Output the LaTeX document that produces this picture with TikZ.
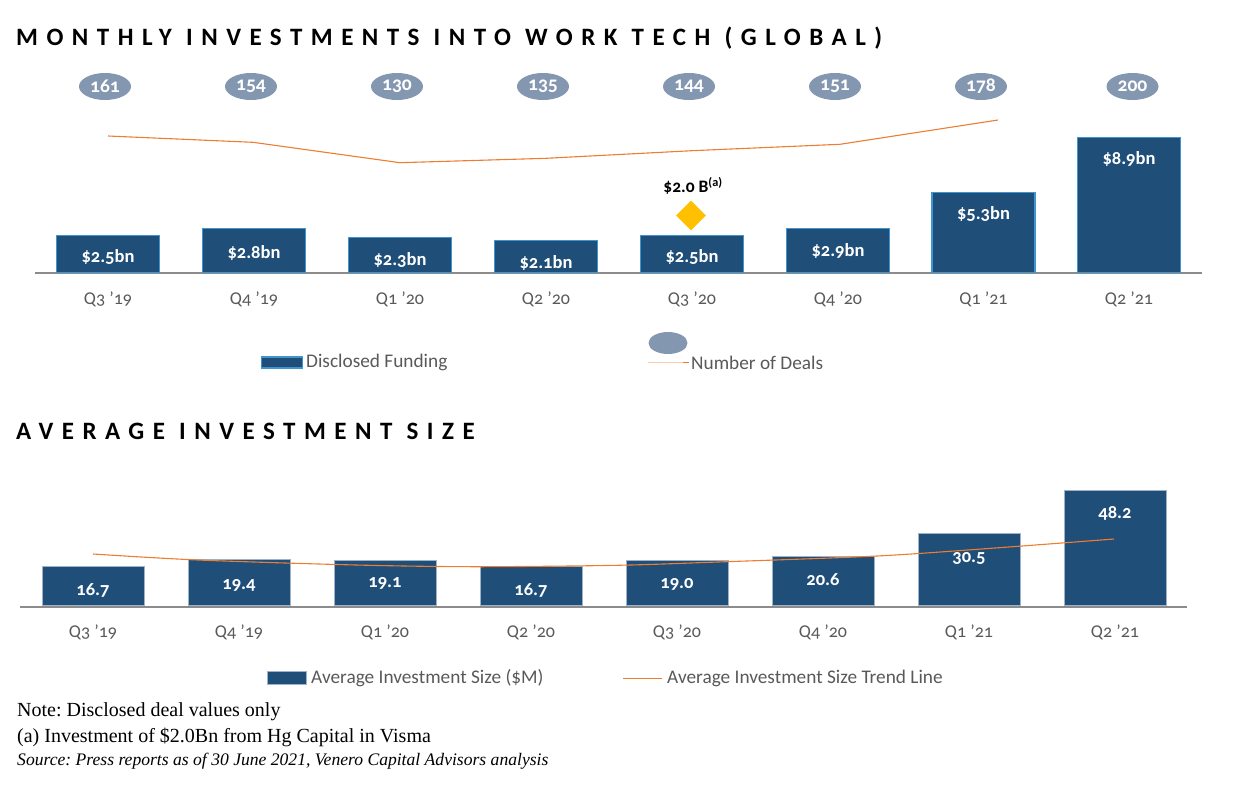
\documentclass[tikz,border=0pt]{standalone}
\usepackage{fontspec}
\setmainfont{Carlito}[Numbers=OldStyle]
\newfontfamily\titlefont{Carlito}[LetterSpace=34]
\newfontfamily\notefont{Liberation Serif}
\usetikzlibrary{shapes.geometric}
\definecolor{barblue}{HTML}{1F4E79}
\definecolor{baredge}{HTML}{3E95D0}
\definecolor{botedge}{HTML}{9FB3C8}
\definecolor{ellgray}{HTML}{8497B0}
\definecolor{lineorange}{HTML}{ED7D31}
\definecolor{axisgray}{HTML}{8C8C8C}
\definecolor{labgray}{HTML}{595959}
\definecolor{diamondyellow}{HTML}{FFC000}
\definecolor{peach}{HTML}{F8CBAD}
\tikzset{
  topbar/.style={draw=baredge, line width=1.5pt, fill=barblue, minimum width=103pt, anchor=south, inner sep=0pt},
  botbar/.style={draw=botedge, line width=0.8pt, fill=barblue, minimum width=102pt, anchor=south, inner sep=0pt},
  barlab/.style={text=white, font=\bfseries\fontsize{18.5}{20}\selectfont, inner sep=0pt},
  qlab/.style={text=labgray, font=\fontsize{18}{20}\selectfont, inner sep=0pt},
  deal/.style={ellipse, fill=ellgray, minimum width=52pt, minimum height=27pt, inner sep=0pt, text=white, font=\bfseries\fontsize{19.5}{21}\selectfont},
  charttitle/.style={anchor=west, inner sep=0pt, font=\titlefont\bfseries\fontsize{25}{28}\selectfont},
  axisline/.style={draw=axisgray, line width=2pt},
  trend/.style={draw=lineorange, line width=1.1pt},
  legtext/.style={anchor=west, inner sep=0pt, text=labgray, font=\fontsize{19.3}{22}\selectfont},
  notetext/.style={anchor=west, inner sep=0pt, font=\notefont\frenchspacing\fontsize{20}{22}\selectfont},
}
\begin{document}
\begin{tikzpicture}[x=1pt,y=-1pt]
\useasboundingbox (0,0) rectangle (1237,787);
% titles
\node[charttitle] (t1) at (16,38) {MONTHLY INVESTMENTS INTO WORK TECH (GLOBAL)};
\node[charttitle] (t2) at (16,431) {AVERAGE INVESTMENT SIZE};
% top chart
\draw[axisline] (35,273) coordinate (ta0) -- (1202,273) coordinate (ta1);
\foreach \i/\x/\h/\ly/\lab in {1/108/37/257/\$2.5bn, 2/254/44/253/\$2.8bn, 3/400/35/260/\$2.3bn, 4/546/32/262.5/\$2.1bn, 5/692/37/257/\$2.5bn, 6/838/44/250.5/\$2.9bn, 7/983.5/80/214/\$5.3bn, 8/1129/135/159/\$8.9bn}{
  \node[topbar, minimum height=\h pt] (tb\i) at (\x,273) {};
  \node[barlab] (tl\i) at (\x,\ly) {\lab};
}
\foreach \i/\x/\lab in {1/108/Q3 \char39 19, 2/254/Q4 \char39 19, 3/400/Q1 \char39 20, 4/546/Q2 \char39 20, 5/692/Q3 \char39 20, 6/838/Q4 \char39 20, 7/983.5/Q1 \char39 21, 8/1129/Q2 \char39 21}{
  \node[qlab] (tq\i) at (\x,299) {\lab};
}
\foreach \i/\x/\lab in {1/105/161, 2/251/154, 3/397/130, 4/543/135, 5/689/144, 6/835/151, 7/981/178, 8/1132.5/200}{
  \node[deal] (e\i) at (\x,86.5) {\lab};
}
\coordinate (d1) at (108,136);
\coordinate (d2) at (253,142.3);
\coordinate (d3) at (400,162.7);
\coordinate (d4) at (546,158.3);
\coordinate (d5) at (692,150.7);
\coordinate (d6) at (840,144.3);
\coordinate (d7) at (998,120);
\draw[trend] (d1) -- (d2) -- (d3) -- (d4) -- (d5) -- (d6) -- (d7);
\node[diamond, fill=diamondyellow, minimum width=30pt, minimum height=30pt, inner sep=0pt] (dia) at (691,215.5) {};
\node[inner sep=0pt, font=\bfseries\fontsize{17.5}{20}\selectfont] (dlab) at (693,186) {\$2.0 B\textsuperscript{(a)}};
% top legend
\node[draw=baredge, line width=1.5pt, fill=barblue, minimum width=41pt, minimum height=11pt, inner sep=0pt] (lg1) at (282,362.5) {};
\node[legtext] (lg1t) at (306,362.5) {Disclosed Funding};
\node[ellipse, fill=ellgray, minimum width=39pt, minimum height=22pt, inner sep=0pt] (lg2e) at (668,343) {};
\coordinate (lg2a) at (648,362.5);
\coordinate (lg2b) at (683,362.5);
\coordinate (lg2c) at (689,362.5);
\draw[draw=peach, line width=0.8pt] (lg2a) -- (lg2b);
\draw[draw=lineorange, line width=1pt] (lg2b) -- (lg2c);
\node[legtext] (lg2t) at (691,362.5) {Number of Deals};
% bottom chart
\draw[axisline] (20,606.5) coordinate (ba0) -- (1187,606.5) coordinate (ba1);
\foreach \i/\x/\h/\ly/\lab in {1/93/39/590/16.7, 2/239/46/585/19.4, 3/385/45/583/19.1, 4/531/39/590/16.7, 5/677/45/584.5/19.0, 6/823/49/580/20.6, 7/969/72/558/30.5, 8/1115/115/513/48.2}{
  \node[botbar, minimum height=\h pt] (bb\i) at (\x,605.5) {};
  \node[barlab] (bl\i) at (\x,\ly) {\lab};
}
\foreach \i/\x/\lab in {1/93/Q3 \char39 19, 2/239/Q4 \char39 19, 3/385/Q1 \char39 20, 4/531/Q2 \char39 20, 5/677/Q3 \char39 20, 6/823/Q4 \char39 20, 7/969/Q1 \char39 21, 8/1115/Q2 \char39 21}{
  \node[qlab] (bq\i) at (\x,632) {\lab};
}
\draw[trend] plot[smooth] coordinates {(93,554) (198,560) (356,565) (474,566.7) (617,565.3) (718,562) (877,556) (995,548) (1114,539)};
% bottom legend
\node[fill=barblue, draw=botedge, line width=0.6pt, minimum width=39pt, minimum height=13pt, inner sep=0pt] (bg1) at (286.5,678) {};
\node[legtext] (bg1t) at (311,678) {Average Investment Size (\$M)};
\coordinate (bg2a) at (623,678);
\coordinate (bg2b) at (662,678);
\draw[draw=lineorange, line width=1pt] (bg2a) -- (bg2b);
\node[legtext] (bg2t) at (667,678) {Average Investment Size Trend Line};
% notes
\node[notetext] (n1) at (17,712) {Note: Disclosed deal values only};
\node[notetext] (n2) at (17,737) {(a) Investment of \$2.0Bn from Hg Capital in Visma};
\node[notetext, font=\notefont\frenchspacing\itshape\fontsize{17.6}{20}\selectfont] (n3) at (17,761) {Source: Press reports as of 30 June 2021, Venero Capital Advisors analysis};
\end{tikzpicture}
\end{document}
